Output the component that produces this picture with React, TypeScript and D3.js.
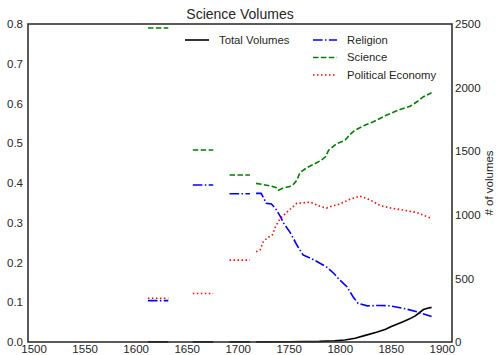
import React, {useEffect, useRef} from "react";
import * as d3 from "d3";

type Pt = [number, number] | null

// share of volumes per subject (left axis); null = gap in the data
const religion: Pt[] = [
    [1612, 0.104], [1632, 0.104], null,
    [1656, 0.395], [1676, 0.395], null,
    [1692, 0.373], [1712, 0.373], null,
    [1718, 0.374], [1723, 0.374], [1728, 0.349], [1733, 0.347], [1737, 0.336], [1742, 0.315],
    [1745, 0.299], [1751, 0.277], [1758, 0.244], [1764, 0.219], [1771, 0.211], [1778, 0.202],
    [1787, 0.189], [1794, 0.173], [1800, 0.156], [1807, 0.139], [1813, 0.114], [1818, 0.097],
    [1827, 0.091], [1840, 0.092], [1849, 0.091], [1862, 0.085], [1876, 0.076], [1890, 0.064],
]
const science: Pt[] = [
    [1612, 0.79], [1632, 0.79], null,
    [1656, 0.483], [1676, 0.483], null,
    [1692, 0.42], [1712, 0.42], null,
    [1718, 0.399], [1725, 0.396], [1733, 0.392], [1738, 0.388], [1740, 0.382], [1744, 0.387],
    [1751, 0.391], [1755, 0.398], [1758, 0.407], [1761, 0.426], [1768, 0.439], [1776, 0.449],
    [1781, 0.456], [1786, 0.466], [1789, 0.482], [1797, 0.499], [1805, 0.507], [1810, 0.522],
    [1815, 0.533], [1825, 0.546], [1833, 0.554], [1846, 0.571], [1858, 0.584], [1869, 0.593],
    [1876, 0.605], [1882, 0.617], [1890, 0.627],
]
const politicalEconomy: Pt[] = [
    [1612, 0.11], [1632, 0.11], null,
    [1656, 0.122], [1676, 0.122], null,
    [1692, 0.206], [1712, 0.206], null,
    [1718, 0.227], [1722, 0.232], [1725, 0.252], [1729, 0.262], [1734, 0.27], [1737, 0.29],
    [1742, 0.312], [1751, 0.333], [1758, 0.349], [1764, 0.35], [1771, 0.352], [1781, 0.341],
    [1787, 0.337], [1791, 0.341], [1800, 0.347], [1810, 0.359], [1820, 0.367], [1830, 0.357],
    [1840, 0.343], [1850, 0.337], [1862, 0.332], [1875, 0.326], [1890, 0.311],
]
// total number of volumes (right axis)
const totalVolumes: Pt[] = [
    [1612, 1], [1632, 1], null,
    [1656, 1], [1676, 1], null,
    [1692, 1], [1712, 1], null,
    [1718, 1], [1750, 2], [1780, 5], [1795, 10], [1805, 16], [1815, 29], [1825, 52], [1836, 76],
    [1845, 100], [1850, 120], [1862, 160], [1868, 180], [1874, 205], [1878, 230], [1882, 255],
    [1886, 265], [1890, 272],
]

const xTicks = [1500, 1550, 1600, 1650, 1700, 1750, 1800, 1850, 1900]
const leftTicks = [0, 0.1, 0.2, 0.3, 0.4, 0.5, 0.6, 0.7, 0.8]
const rightTicks = [0, 500, 1000, 1500, 2000, 2500]

const FONT = "'Liberation Sans', Arial, sans-serif"
const TXT = "#262626"

const App = () => {
    const svgRef = useRef(null)

    useEffect(() => {
        const svg = d3.select(svgRef.current)
        svg.selectAll("*").remove()

        const left = 28, right = 452, top = 24, bottom = 342

        const x = d3.scaleLinear().domain([1494.5, 1910]).range([left, right])
        const yL = d3.scaleLinear().domain([0, 0.8]).range([bottom, top])
        const yR = d3.scaleLinear().domain([0, 2500]).range([bottom, top])

        // axes, no tick marks (seaborn white)
        const styleAxis = (g: any) => {
            g.select(".domain").remove()
            g.selectAll("text").attr("fill", TXT).style("font-family", FONT).style("font-size", "11.5px")
        }
        svg.append("g").attr("transform", `translate(0,${bottom})`)
            .call(d3.axisBottom(x).tickValues(xTicks).tickFormat(d3.format("d")).tickSize(0).tickPadding(3))
            .call(styleAxis)
        svg.append("g").attr("transform", `translate(${left},0)`)
            .call(d3.axisLeft(yL).tickValues(leftTicks).tickFormat(d3.format(".1f")).tickSize(0).tickPadding(5))
            .call(styleAxis)
        svg.append("g").attr("transform", `translate(${right},0)`)
            .call(d3.axisRight(yR).tickValues(rightTicks).tickFormat(d3.format("d")).tickSize(0).tickPadding(3))
            .call(styleAxis)

        const clip = svg.append("g")

        const series = [
            {data: totalVolumes, y: yR, color: "#000000", dash: null},
            {data: religion, y: yL, color: "#0000ff", dash: "9.6,2.4,1.5,2.4"},
            {data: science, y: yL, color: "#008000", dash: "5.5,2.4"},
            {data: politicalEconomy, y: yL, color: "#ff0000", dash: "1.5,2.5"},
        ]
        series.forEach(s => {
            const line = d3.line<Pt>()
                .defined(d => d !== null)
                // @ts-ignore
                .x(d => x(d[0]))
                // @ts-ignore
                .y(d => s.y(d[1]))
            clip.append("path")
                .attr("d", line(s.data))
                .attr("fill", "none")
                .attr("stroke", s.color)
                .attr("stroke-width", 1.6)
                .attr("stroke-dasharray", s.dash)
        })

        // frame
        svg.append("rect")
            .attr("x", left).attr("y", top)
            .attr("width", right - left).attr("height", bottom - top)
            .attr("fill", "none").attr("stroke", "#333").attr("stroke-width", 1.6)

        svg.append("text")
            .attr("x", (left + right) / 2).attr("y", 18.5)
            .attr("text-anchor", "middle")
            .attr("fill", TXT).style("font-family", FONT).style("font-size", "14px")
            .text("Science Volumes")

        svg.append("text")
            .attr("transform", `translate(489,${(top + bottom) / 2}) rotate(-90)`)
            .attr("text-anchor", "middle").attr("dy", "0.35em")
            .attr("fill", TXT).style("font-family", FONT).style("font-size", "11.5px")
            .text("# of volumes")

        // legend, two columns
        const legend = [
            {label: "Total Volumes", color: "#000000", dash: null, col: 0, row: 0},
            {label: "Religion", color: "#0000ff", dash: "9.6,2.4,1.5,2.4", col: 1, row: 0},
            {label: "Science", color: "#008000", dash: "5.5,2.4", col: 1, row: 1},
            {label: "Political Economy", color: "#ff0000", dash: "1.5,2.5", col: 1, row: 2},
        ]
        const colX = [185, 313]
        legend.forEach(l => {
            const g = svg.append("g").attr("transform", `translate(${colX[l.col]},${40 + l.row * 17.5})`)
            g.append("line").attr("x1", 0).attr("x2", 24)
                .attr("stroke", l.color).attr("stroke-width", 1.6)
                .attr("stroke-dasharray", l.dash)
            g.append("text").attr("x", 34).attr("dy", "0.35em")
                .attr("fill", TXT).style("font-family", FONT).style("font-size", "11.3px")
                .text(l.label)
        })
    }, [])

    return (
        <svg ref={svgRef} width={497} height={355}
             style={{position: "absolute", left: 0, top: 0, background: "#fff"}}/>
    );
};

export default App;
